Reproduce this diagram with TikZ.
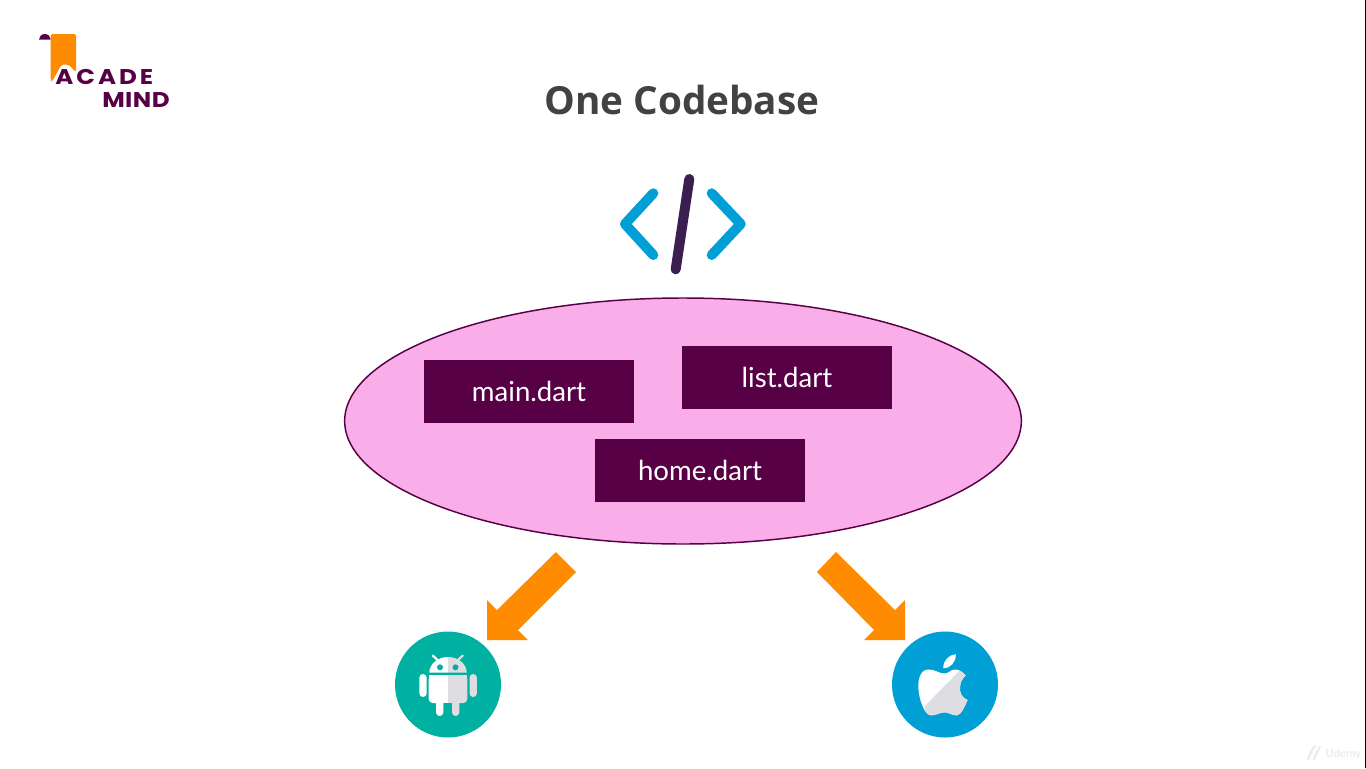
\documentclass[tikz,border=0pt]{standalone}
\usepackage{fontspec}
\usetikzlibrary{shapes.geometric}
\setmainfont{Lato}
\newfontfamily\titlefont{Open Sans}
\newfontfamily\logofont[LetterSpace=14,FakeStretch=1.15]{Poppins}
\newfontfamily\logofontb[LetterSpace=2,FakeStretch=1.15]{Poppins}

\definecolor{plum}{HTML}{570045}
\definecolor{pinkfill}{HTML}{F9AEE9}
\definecolor{orangefill}{HTML}{FF8C00}
\definecolor{bluefill}{HTML}{009FD6}
\definecolor{tealfill}{HTML}{00B0A0}
\definecolor{slashcol}{HTML}{3A1F50}
\definecolor{greyfill}{HTML}{DDDDE2}
\definecolor{titlecol}{HTML}{424242}

\tikzset{
    filebox/.style={fill=plum, text=white, minimum width=157.5pt, minimum height=47.25pt, inner sep=0pt, font=\fontsize{20.7}{24}\selectfont},
    osdisc/.style={circle, minimum size=79.5pt, inner sep=0pt},
    blockarrow/.style={fill=orangefill, draw=none},
    bracket/.style={color=bluefill, line width=7.5pt, line cap=round, line join=round},
}

\def\applepath{(945,673.5) .. controls (938,673.5) and (935,669) .. (928,669.5) .. controls (921,670) and (918,678) .. (918.3,687) .. controls (918.6,698) and (924,715) .. (931,715.3) .. controls (936,715.5) and (940,712.3) .. (944.5,712.3) .. controls (949,712.3) and (952,715.5) .. (957,715.3) .. controls (961,715) and (965,706) .. (967.5,700) .. controls (962,698) and (959,692) .. (960,686.5) .. controls (960.5,681) and (963,678) .. (965.5,675.5) .. controls (962,671) and (958,669) .. (954,669.5) .. controls (951,669.8) and (948,673.5) .. (945,673.5) -- cycle}

\begin{document}
\begin{tikzpicture}[x=0.75pt,y=-0.75pt]
    \useasboundingbox (0,0) rectangle (1366,768);

    \fill[white] (0,0) rectangle (1366,768);
    \fill[black] (1365,0) rectangle (1366,768);

    \node[text=titlecol, font=\titlefont\bfseries\fontsize{29}{36}\selectfont] (title) at (682,100) {One Codebase};

    \draw[bracket] (653.3,193.3) -- (625,224) -- (653.3,255);
    \draw[bracket] (711.7,193.3) -- (740.7,224) -- (711.7,255);
    \draw[color=slashcol, line width=7.5pt, line cap=round] (689.3,179) -- (675.7,269.3);

    \node[ellipse, draw=plum, line width=1.1pt, fill=pinkfill, minimum width=507.5pt, minimum height=184.5pt, inner sep=0pt] (codebase) at (683,421) {};

    \node[filebox] (mainfile) at (529,391.5) {main.dart};
    \node[filebox] (listfile) at (787,377.5) {list.dart};
    \node[filebox] (homefile) at (700,470.5) {home.dart};

    \fill[blockarrow] (556,552) -- (576,572) -- (518,630) -- (528,640) -- (487,640) -- (487,600) -- (497,610) -- cycle;
    \fill[blockarrow] (836,552) -- (817,572) -- (874,630) -- (864,640) -- (905,640) -- (905,600) -- (895,610) -- cycle;

    \node[osdisc, fill=tealfill] (androiddisc) at (448,684.5) {};
    \node[osdisc, fill=bluefill] (applediscs) at (945,684.5) {};

    % android
    \draw[white, line width=1.6pt, line cap=round] (432.7,655.5) -- (439.3,661.7);
    \draw[greyfill, line width=1.6pt, line cap=round] (462.8,655.5) -- (456.2,661.7);
    \fill[white] (429.3,672.7) arc[start angle=180, end angle=90, x radius=18.7, y radius=-15.7] -- (448,672.7) -- cycle;
    \fill[greyfill] (448,657) arc[start angle=90, end angle=0, x radius=18.7, y radius=-15.7] -- (448,672.7) -- cycle;
    \fill[tealfill] (440,667.3) circle[radius=3];
    \fill[tealfill] (455.5,667.3) circle[radius=3];
    \fill[white, rounded corners=3pt] (428.7,675) rectangle (448,703);
    \fill[white] (428.7,675) rectangle (448,690);
    \fill[greyfill, rounded corners=3pt] (448,675) rectangle (467.3,703);
    \fill[greyfill] (448,675) rectangle (467.3,690);
    \fill[white] (448,690) rectangle (440,703);
    \fill[greyfill] (448,690) rectangle (456,703);
    \fill[white, rounded corners=2.7pt] (419.3,674) rectangle (426.7,697);
    \fill[greyfill, rounded corners=2.7pt] (469.5,674) rectangle (476.9,697);
    \fill[white, rounded corners=2.7pt] (436,695) rectangle (443.3,716);
    \fill[greyfill, rounded corners=2.7pt] (452,695) rectangle (459.3,716);

    % apple
    \fill[white] \applepath;
    \begin{scope}
        \clip \applepath;
        \fill[greyfill] (925,706) -- (959,671) -- (975,671) -- (975,720) -- (925,720) -- cycle;
    \end{scope}
    \fill[white] (955.8,654.3) .. controls (948,655) and (943,661) .. (943.3,668.3) .. controls (951,668) and (956,662) .. (955.8,654.3) -- cycle;

    % logo
    \fill[orangefill, rounded corners=1.5pt] (50.7,81) -- (50.7,34) -- (76,34) -- (76,72) -- (68.5,64.5) -- (61.5,64.5) -- (52.5,81) -- cycle;
    \fill[plum] (39,39.5) arc[start angle=180, end angle=0, x radius=5.85, y radius=-5.5] -- cycle;
    \node[anchor=base west, inner sep=0pt, text=plum, font=\logofont\bfseries\fontsize{16}{18}\selectfont] (logotop) at (55,84) {ACADE};
    \node[anchor=base west, inner sep=0pt, text=plum, font=\logofontb\bfseries\fontsize{16}{18}\selectfont] (logobottom) at (102,107.5) {MIND};

    % watermark
    \draw[black!7, line width=1.8pt, line cap=round] (1308,759) .. controls (1311,752) and (1313,748) .. (1315,746) (1314,759) .. controls (1316,754) and (1318,750) .. (1320,747);
    \node[text=black!7, anchor=base west, inner sep=0pt, font=\bfseries\fontsize{8.5}{10}\selectfont] (udemy) at (1325,757) {Udemy};
\end{tikzpicture}
\end{document}
